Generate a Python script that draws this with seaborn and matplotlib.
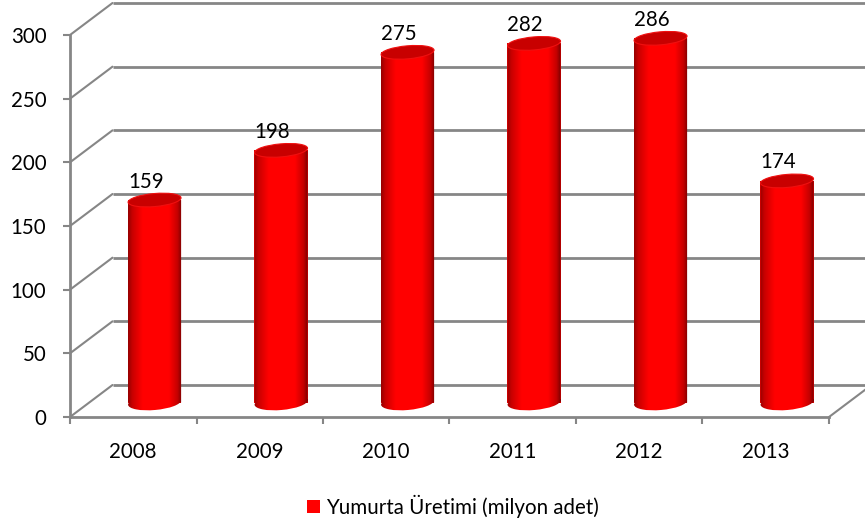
import numpy as np
import pandas as pd
import matplotlib
matplotlib.use('Agg')
import matplotlib.pyplot as plt
import seaborn as sns
from matplotlib.colors import LinearSegmentedColormap
from matplotlib.patches import Ellipse, Patch
from matplotlib.path import Path
from matplotlib.transforms import Affine2D, IdentityTransform

# Data
years = ['2008', '2009', '2010', '2011', '2012', '2013']
production = [159, 198, 275, 282, 286, 174]
y_ticks = [0, 50, 100, 150, 200, 250, 300]
legend_label = 'Yumurta Üretimi (milyon adet)'

# Fake depth of the 3D look, in pixels
DEPTH_X, DEPTH_Y = 42.5, 32
MID_X, MID_Y = 21.3, 14.5
GRAY = '#868686'
FONT_SIZE = 14.8

sns.set_style('white')
plt.rcParams['font.family'] = ['Lato', 'DejaVu Sans']

fig = plt.figure(figsize=(8.65, 5.24), dpi=100)
ax = fig.add_axes([70 / 865, (524 - 417) / 524, 759 / 865, 382 / 524])
ax.set_facecolor('white')

df = pd.DataFrame({'year': years, 'value': production})
sns.barplot(data=df, x='year', y='value', color='#FF0000', width=0.42,
            saturation=1, ax=ax)

ax.set_xlim(-0.5, 5.5)
ax.set_ylim(0, 300)
ax.set_autoscale_on(False)
ax.set_xlabel('')
ax.set_ylabel('')
ax.set_yticks(y_ticks)

# Spines and ticks
sns.despine(ax=ax)
for side in ['left', 'bottom']:
    ax.spines[side].set_color(GRAY)
    ax.spines[side].set_linewidth(2)
ax.tick_params(axis='y', left=True, length=5, width=1.5, color=GRAY,
               labelsize=FONT_SIZE, pad=12, labelcolor='black')
ax.tick_params(axis='x', bottom=False, labelsize=FONT_SIZE, pad=14.5,
               labelcolor='black')

# x ticks sit between the categories
ax.set_xticks(np.arange(len(years) + 1) - 0.5, minor=True)
ax.tick_params(axis='x', which='minor', bottom=True, length=5, width=1.5, color=GRAY)

# Back wall gridlines and the floor/side lines
back = ax.transData + Affine2D().translate(DEPTH_X, DEPTH_Y)
ax.hlines(y_ticks, -0.5, 5.5, colors=GRAY, linewidth=2, transform=back,
          clip_on=False, zorder=1)
for tick in y_ticks:
    px, py = ax.transData.transform((-0.5, tick))
    ax.plot([px, px + DEPTH_X], [py, py + DEPTH_Y], color=GRAY, linewidth=1.5,
            transform=IdentityTransform(), clip_on=False, zorder=1)
px, py = ax.transData.transform((5.5, 0))
ax.plot([px, px + DEPTH_X], [py, py + DEPTH_Y], color=GRAY, linewidth=1.5,
        transform=IdentityTransform(), clip_on=False, zorder=1)

# Cylinders: seaborn's bars are moved to mid depth and shaded
shade = LinearSegmentedColormap.from_list(
    'cyl', [(0, '#960000'), (0.08, '#C80000'), (0.27, '#FF0000'), (0.76, '#FF0000'),
            (0.92, '#C40000'), (1, '#7A0000')])
gradient = np.linspace(0, 1, 256).reshape(1, -1)
mid = ax.transData + Affine2D().translate(MID_X, MID_Y)

for i, bar in enumerate(ax.patches):
    bar.set_transform(mid)
    bar.set_clip_on(False)
    bar.set_linewidth(0)
    bar.set_zorder(3)

    x0, y0 = mid.transform((bar.get_x(), 0))
    x1, y1 = mid.transform((bar.get_x() + bar.get_width(), production[i]))
    w = x1 - x0
    cx = (x0 + x1) / 2

    base = Ellipse((cx, y0), w, 15, angle=5, transform=IdentityTransform())
    rect = Path([(x0, y0), (x1, y0), (x1, y1), (x0, y1), (x0, y0)], closed=True)
    base_path = base.get_patch_transform().transform_path(base.get_path())
    body = Path.make_compound_path(rect, base_path)

    im = ax.imshow(gradient, cmap=shade, aspect='auto', zorder=3.1,
                   extent=[x0, x1, y0 - 10, y1 + 2], transform=IdentityTransform())
    im.set_clip_box(fig.bbox)
    im.set_clip_path(body, IdentityTransform())

    cap = Ellipse((cx, y1), w, 13, angle=5, facecolor='#C80000', edgecolor='#F01010',
                  linewidth=0.8, transform=IdentityTransform(), clip_on=False, zorder=3.2)
    ax.add_patch(cap)

    ax.annotate(str(production[i]), (i, production[i]), xytext=(12.5, 33),
                textcoords='offset pixels', ha='center', va='center',
                fontsize=FONT_SIZE, color='black', annotation_clip=False, zorder=4)

# Legend
handle = Patch(facecolor='#FF0000', edgecolor='none', label=legend_label)
fig.legend(handles=[handle], loc='center', bbox_to_anchor=(453 / 865, 1 - 506 / 524),
           frameon=False, fontsize=FONT_SIZE, handlelength=0.63, handleheight=0.63,
           handletextpad=0.28, labelcolor='black')

fig.savefig('out.png', dpi=100, facecolor='white')
plt.close(fig)
